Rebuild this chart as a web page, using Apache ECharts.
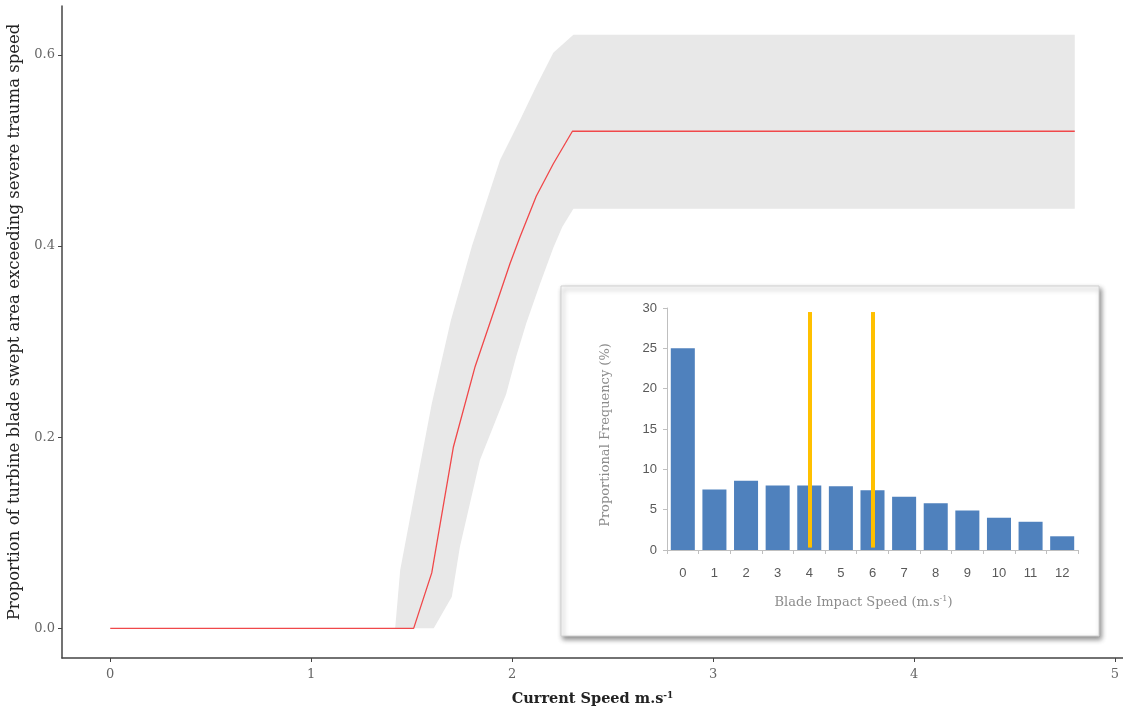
<!DOCTYPE html>
<html>
<head>
<meta charset="utf-8">
<script src="https://cdn.jsdelivr.net/npm/echarts@6/dist/echarts.min.js"></script>
<style>html,body{margin:0;padding:0;background:#fff}#c{width:1123px;height:713px}</style>
</head>
<body>
<div id="c"></div>
<script>
// Main chart data
const meanLine = [[0,0],[1.51,0],[1.60,0.058],[1.708,0.19],[1.816,0.274],[1.90,0.326],[1.99,0.382],[2.04,0.41],[2.12,0.452],[2.205,0.486],[2.30,0.52],[4.80,0.52]];
const bandUpper = [[1.418,0],[1.443,0.061],[1.515,0.141],[1.60,0.235],[1.695,0.322],[1.80,0.40],[1.94,0.49],[2.04,0.532],[2.12,0.567],[2.205,0.602],[2.305,0.621],[4.80,0.621]];
const bandLower = [[1.61,0],[1.70,0.033],[1.74,0.085],[1.84,0.176],[1.97,0.245],[2.02,0.284],[2.07,0.319],[2.14,0.361],[2.205,0.398],[2.25,0.42],[2.305,0.439],[4.80,0.439]];
const mainXTicks = [0,1,2,3,4,5];
const mainYTicks = [0,0.2,0.4,0.6];

// Inset data
const insetCategories = ['0','1','2','3','4','5','6','7','8','9','10','11','12'];
const insetValues = [25,7.5,8.6,8.0,8.0,7.9,7.4,6.6,5.8,4.9,4.0,3.5,1.7];
const thresholdCats = ['4','6'];
const thresholdTop = 29.5;

const serif = '"DejaVu Serif", "Liberation Serif", serif';
const insetSans = '"Liberation Sans Narrow", "Liberation Sans", sans-serif';
const chart = echarts.init(document.getElementById('c'));

const bandPolygon = bandUpper.concat(bandLower.slice().reverse());

chart.setOption({
  animation: false,
  backgroundColor: '#fff',
  graphic: [{
    type: 'rect',
    shape: {x: 561, y: 286, width: 538, height: 350},
    style: {fill: '#fff', stroke: '#d0d0d0', lineWidth: 1, shadowBlur: 5, shadowOffsetX: 2, shadowOffsetY: 3, shadowColor: 'rgba(0,0,0,0.45)'},
    z: 5
  }],
  grid: [
    {left: 62, top: 6, width: 1061, height: 652, containLabel: false, outerBoundsMode: 'none'},
    {left: 667, top: 308, width: 411, height: 242, z: 10, containLabel: false, outerBoundsMode: 'none'}
  ],
  xAxis: [{
    type: 'value', gridIndex: 0, min: -0.24, max: 5.04,
    splitLine: {show: false},
    axisLine: {show: true, onZero: false, lineStyle: {color: '#444', width: 1.5}},
    axisTick: {show: true, customValues: mainXTicks, length: 4, lineStyle: {color: '#444'}},
    axisLabel: {customValues: mainXTicks, color: '#666', fontFamily: serif, fontSize: 13, margin: 10},
    name: '{a|Current Speed m.s}{s|-1}', nameLocation: 'middle', nameGap: 33,
    nameTextStyle: {rich: {
      a: {fontFamily: serif, fontWeight: 'bold', fontSize: 14.5, color: '#222'},
      s: {fontFamily: serif, fontWeight: 'bold', fontSize: 9, color: '#222', verticalAlign: 'top', padding: [0,0,8,0]}
    }}
  }, {
    type: 'category', gridIndex: 1, data: insetCategories, z: 12,
    axisLine: {lineStyle: {color: '#bfbfbf'}},
    axisTick: {show: true, length: 4, lineStyle: {color: '#bfbfbf'}},
    axisLabel: {color: '#595959', fontFamily: insetSans, fontSize: 13, margin: 17},
    name: '{a|Blade Impact Speed (m.s}{s|-1}{a|)}', nameLocation: 'middle', nameGap: 45,
    nameTextStyle: {padding: [0, 18, 0, 0], rich: {
      a: {fontFamily: serif, fontSize: 13, color: '#8c8c8c'},
      s: {fontFamily: serif, fontSize: 8, color: '#8c8c8c', verticalAlign: 'top', padding: [0,0,7,0]}
    }}
  }],
  yAxis: [{
    type: 'value', gridIndex: 0, min: -0.031, max: 0.651,
    splitLine: {show: false},
    axisLine: {show: true, onZero: false, lineStyle: {color: '#444', width: 1.5}},
    axisTick: {show: true, customValues: mainYTicks, length: 4, lineStyle: {color: '#444'}},
    axisLabel: {customValues: mainYTicks, color: '#666', fontFamily: serif, fontSize: 13, margin: 7, formatter: v => v.toFixed(1)},
    name: 'Proportion of turbine blade swept area exceeding severe trauma speed',
    nameLocation: 'middle', nameGap: 34, nameRotate: 90,
    nameTextStyle: {fontFamily: serif, fontSize: 16.5, color: '#222', padding: [0, 0, 0, 20]}
  }, {
    type: 'value', gridIndex: 1, min: 0, max: 30, interval: 5, z: 12,
    splitLine: {show: false},
    axisLine: {show: true, lineStyle: {color: '#bfbfbf'}},
    axisTick: {show: true, length: 4, lineStyle: {color: '#bfbfbf'}},
    axisLabel: {color: '#595959', fontFamily: insetSans, fontSize: 13, margin: 10},
    name: 'Proportional Frequency (%)', nameLocation: 'middle', nameGap: 55, nameRotate: 90,
    nameTextStyle: {fontFamily: serif, fontSize: 13, color: '#8c8c8c', padding: [0, 12, 0, 0]}
  }],
  series: [{
    type: 'custom', xAxisIndex: 0, yAxisIndex: 0, data: [0], z: 1,
    renderItem: function (params, api) {
      const pts = bandPolygon.map(p => api.coord(p));
      return {type: 'polygon', shape: {points: pts}, style: {fill: '#e8e8e8'}};
    }
  }, {
    type: 'line', xAxisIndex: 0, yAxisIndex: 0, data: meanLine, symbol: 'none', z: 2,
    lineStyle: {color: '#f0484a', width: 1.3}
  }, {
    type: 'bar', xAxisIndex: 1, yAxisIndex: 1, data: insetValues, z: 11,
    barCategoryGap: '24%', itemStyle: {color: '#4f81bd'},
    markLine: {
      silent: true, symbol: 'none', label: {show: false}, z: 12,
      lineStyle: {color: '#ffc000', width: 4, type: 'solid'},
      data: thresholdCats.map(c => [{coord: [c, 0.3]}, {coord: [c, thresholdTop]}])
    }
  }]
});
</script>
</body>
</html>
